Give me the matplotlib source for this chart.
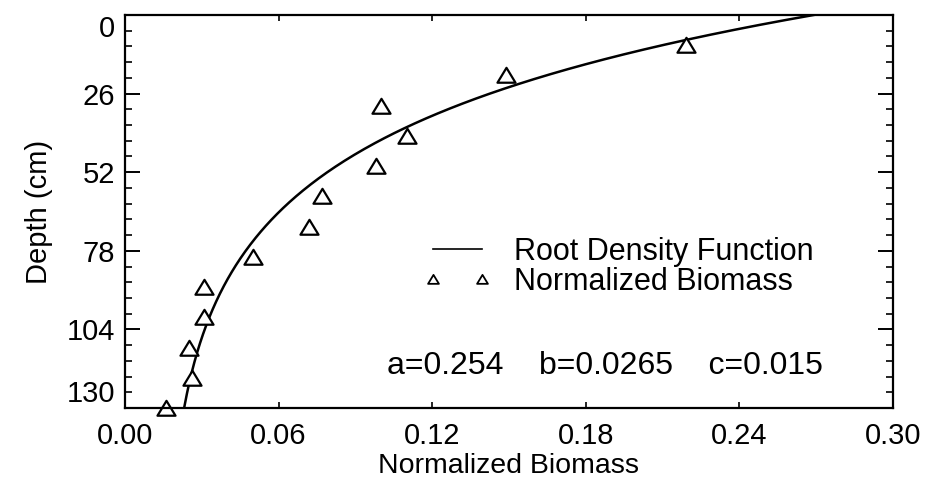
import numpy as np
import matplotlib
matplotlib.use("Agg")
import matplotlib.pyplot as plt
from matplotlib.path import Path
from matplotlib.ticker import MultipleLocator, FixedLocator

plt.rcParams['font.family'] = ['Liberation Sans', 'DejaVu Sans']

# Measured normalized biomass by depth
depth_cm = [10, 20, 30, 40, 50, 60, 70, 80, 90, 100, 110, 120, 130]
biomass = [0.219, 0.149, 0.100, 0.110, 0.098, 0.077, 0.072,
           0.050, 0.031, 0.031, 0.025, 0.026, 0.016]

# Fitted root density function parameters: f(z) = a*exp(-b*z) + c
a_par = 0.254
b_par = 0.0265
c_par = 0.015

x_ticks = [0.00, 0.06, 0.12, 0.18, 0.24, 0.30]
y_ticks = [0, 26, 52, 78, 104, 130]

z = np.linspace(0, 130, 400)
fit = a_par * np.exp(-b_par * z) + c_par

fig = plt.figure(figsize=(9.29, 4.78), dpi=100)
ax = fig.add_axes([125 / 929, 1 - 408 / 478, 768 / 929, 393 / 478])

line, = ax.plot(fit, z, color='black', lw=1.8, label='Root Density Function')

# slightly flattened open triangle
tri = Path([(-1.0, -0.8), (1.0, -0.8), (0.0, 0.85), (-1.0, -0.8)],
           [Path.MOVETO, Path.LINETO, Path.LINETO, Path.CLOSEPOLY])
pts, = ax.plot(biomass, depth_cm, linestyle='none', marker=tri, ms=13,
               mfc='white', mec='black', mew=1.6, clip_on=False,
               label='Normalized Biomass')

ax.set_xlim(0, 0.30)
ax.set_ylim(130, 0)

ax.xaxis.set_major_locator(FixedLocator(x_ticks))
ax.set_xticklabels([f"{v:.2f}" for v in x_ticks])
ax.yaxis.set_major_locator(FixedLocator(y_ticks))
ax.yaxis.set_minor_locator(MultipleLocator(5.2))
ax.set_yticklabels([str(v) for v in y_ticks])

ax.tick_params(axis='both', which='both', direction='in', top=True, right=True,
               labelsize=21, colors='black')
ax.tick_params(axis='y', which='major', length=11, width=1.4, pad=7)
ax.tick_params(axis='y', which='minor', length=5, width=1.2)
ax.tick_params(axis='x', which='major', length=4, width=1.2, pad=10)
ax.tick_params(axis='x', which='minor', bottom=False, top=False)

ylabels = ax.get_yticklabels()
ylabels[0].set_va('top')
ylabels[-1].set_va('bottom')

for sp in ax.spines.values():
    sp.set_linewidth(1.6)

ax.set_xlabel('Normalized Biomass', fontsize=20.5, labelpad=2)
ax.set_ylabel('Depth (cm)', fontsize=21, labelpad=10)

leg = ax.legend(handles=[line, pts], loc='upper left',
                bbox_to_anchor=(424 / 929, 1 - 237 / 478),
                bbox_transform=fig.transFigure, frameon=False,
                fontsize=22, numpoints=2, markerscale=0.6,
                handlelength=2.2, handletextpad=0.75, labelspacing=0.0,
                borderpad=0, borderaxespad=0)
for h in leg.legend_handles:
    if h.get_linestyle() not in ('None', 'none', ''):
        h.set_linewidth(1.2)
    else:
        h.set_markeredgewidth(1.3)

fig.text(605 / 929, 1 - 366 / 478,
         'a=0.254    b=0.0265    c=0.015', fontsize=23,
         ha='center', va='center')

fig.savefig('out.png', dpi=100)
